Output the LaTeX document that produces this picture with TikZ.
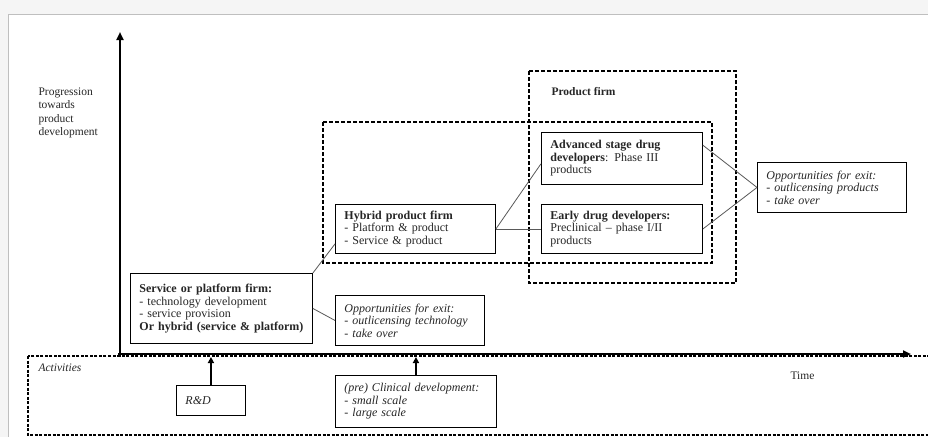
\documentclass[tikz,border=0pt]{standalone}
\usepackage{fontspec}
\setmainfont{Liberation Serif}
\usetikzlibrary{calc,arrows.meta}
\tikzset{
    firm/.style={draw, line width=0.9pt, anchor=north west, align=left,
        inner xsep=9pt, inner ysep=2pt, text=black!85,
        font=\fontsize{12}{12.5}\selectfont},
    exit/.style={firm, font=\itshape\fontsize{12}{12.5}\selectfont},
    zone/.style={draw, line width=1.5pt, dash pattern=on 4pt off 2pt},
    link/.style={draw=black!65, line width=0.8pt},
    axis/.style={line width=2.4pt, -{Triangle[length=8pt,width=7pt]}},
    push/.style={line width=1.8pt, -{Triangle[length=6pt,width=6pt]}},
    label/.style={anchor=west, text=black!85, font=\fontsize{11.5}{13.5}\selectfont}
}

\begin{document}
\begin{tikzpicture}[x=1pt,y=-1pt]
    \useasboundingbox (0,0) rectangle (928,437);
    % page frame
    \fill[black!4] (0,0) rectangle (928,437);
    \fill[white] (8,14) rectangle (928,437);
    \draw[black!25, line width=1pt] (8,437) -- (8,14) -- (928,14);

    % zones
    \draw[line width=1.1pt, dash pattern=on 3pt off 1.5pt] (28,356) rectangle (940,435);
    \draw[zone] (323,122) rectangle (712,263);
    \draw[zone] (529,71) rectangle (736,283);
    \node[label, font=\bfseries\fontsize{11.5}{13.5}\selectfont] (pf) at (548,92) {Product firm};

    % axes
    \draw[axis] (120,357) -- (120,32) coordinate (ytop);
    \draw[axis] (118,354) -- (911,354) coordinate (xend);
    \node[label, anchor=north west, align=left] (prog) at (35,84)
        {Progression\\towards\\product\\development};
    \node[label, font=\itshape\fontsize{11.5}{13.5}\selectfont] (act) at (35,368) {Activities};
    \node[label] (time) at (787,376) {Time};

    % firms
    \node[firm, text width=164pt, minimum height=70pt] (service) at (130,273)
        {\textbf{Service or platform firm:}\\- technology development\\- service provision\\\textbf{Or hybrid (service \& platform)}};
    \node[exit, text width=131pt, minimum height=50pt] (exittech) at (335,295)
        {Opportunities for exit:\\- outlicensing technology\\- take over};
    \node[firm, text width=142pt, minimum height=49pt] (hybrid) at (335,204)
        {\textbf{Hybrid product firm}\\- Platform \& product\\- Service \& product};
    \node[firm, text width=143pt, minimum height=52pt] (advanced) at (541,132)
        {\textbf{Advanced stage drug}\\\textbf{developers}: Phase III\\products};
    \node[firm, text width=143pt, minimum height=49pt] (early) at (541,204)
        {\textbf{Early drug developers:}\\Preclinical -- phase I/II\\products};
    \node[exit, text width=131pt, minimum height=50pt] (exitprod) at (757,162)
        {Opportunities for exit:\\- outlicensing products\\- take over};

    % activities
    \node[exit, text width=51pt, minimum height=30pt] (rd) at (176,385) {R\&D};
    \node[exit, text width=143pt, minimum height=52pt] (clinical) at (335,375)
        {(pre) Clinical development:\\- small scale\\- large scale};

    % links
    \draw[link] (service.north east) -- ($(hybrid.south west)!0.2!(hybrid.north west)$);
    \draw[link] (service.east) -- (exittech.west);
    \draw[link] (hybrid.east) -- ($(advanced.south west)!0.4!(advanced.north west)$);
    \draw[link] (hybrid.east) -- (early.west);
    \draw[link] ($(advanced.south east)!0.75!(advanced.north east)$) -- (exitprod.west);
    \draw[link] (early.east) -- (exitprod.west);

    \draw[push] (rd.north) -- (rd.north |- 0,357);
    \draw[push] ($(clinical.north west)!0.5!(clinical.north east)$) -- ++(0,-18);
\end{tikzpicture}
\end{document}
